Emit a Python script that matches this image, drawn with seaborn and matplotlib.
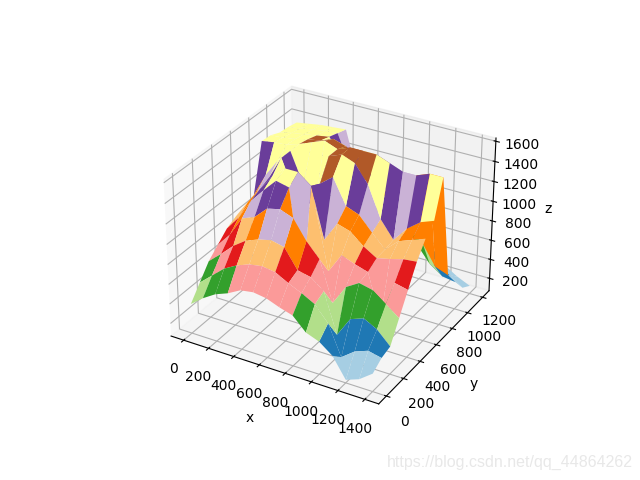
import numpy as np
import matplotlib
matplotlib.use('Agg')
import matplotlib.pyplot as plt
import seaborn as sns

# grid positions
x_vals = np.arange(0, 1500, 100)
y_vals = np.arange(0, 1300, 100)

# heights, one row per y
z_rows = [
    [370, 470, 550, 600, 670, 690, 670, 620, 580, 450, 400, 300, 100, 150, 250],
    [510, 620, 730, 800, 850, 870, 850, 780, 720, 650, 500, 200, 300, 350, 320],
    [650, 760, 880, 970, 1020, 1050, 1020, 830, 800, 700, 300, 500, 550, 480, 350],
    [740, 880, 1080, 1130, 1250, 1280, 1230, 1040, 900, 500, 700, 780, 750, 650, 550],
    [830, 980, 1180, 1320, 1450, 1420, 450, 1300, 700, 900, 850, 810, 380, 780, 750],
    [880, 1060, 1230, 1390, 1500, 1500, 1400, 900, 1100, 1060, 950, 870, 900, 936, 950],
    [910, 1090, 1270, 1500, 1200, 1100, 1350, 1450, 1200, 1150, 1010, 880, 1000, 1050, 1100],
    [950, 1190, 1370, 1500, 1200, 1100, 1550, 1600, 1550, 1380, 1070, 900, 1050, 1150, 1200],
    [1430, 1450, 1460, 1500, 1550, 1600, 1550, 1600, 1600, 1600, 1550, 1500, 1500, 1550, 1550],
    [1420, 1430, 1450, 1480, 1500, 1550, 1510, 1430, 1300, 1200, 980, 850, 750, 550, 500],
    [1380, 1410, 1430, 1450, 1470, 1320, 1280, 1200, 1080, 940, 780, 620, 460, 370, 350],
    [1370, 1390, 1410, 1430, 1440, 1140, 1110, 1050, 950, 820, 690, 540, 380, 300, 210],
    [1350, 1370, 1390, 1400, 1410, 960, 940, 880, 800, 690, 570, 430, 290, 210, 150],
]

X, Y = np.meshgrid(x_vals, y_vals)
Z = np.array(z_rows)

fig = plt.figure(figsize=(6.4, 4.8), dpi=100)
ax = fig.add_subplot(projection='3d')
ax.plot_surface(X, Y, Z, cmap=sns.color_palette('Paired', as_cmap=True))
ax.set_xlabel('x')
ax.set_ylabel('y')
ax.set_zlabel('z')

# blog watermark
fig.text(0.989, 0.036, 'https://blog.csdn.net/qq_44864262', ha='right', va='center',
         color='#e8e8e8', fontsize=11.5, family='Liberation Sans')

fig.savefig('out.png', dpi=100)
